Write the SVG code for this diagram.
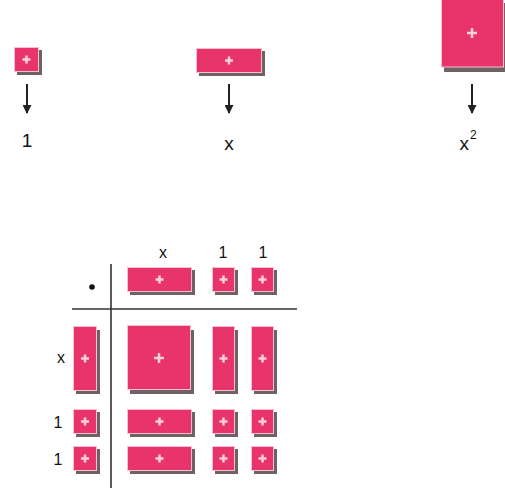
<svg xmlns="http://www.w3.org/2000/svg" width="505" height="493" viewBox="0 0 505 493">
<defs>
<style>
.sh{fill:#6e6264}
.t{fill:#e8346b;stroke:#f5bfd0;stroke-width:1}
.p{stroke:#f8d0dc;stroke-width:2.5;stroke-linecap:butt}
.lbl{font-family:"Liberation Sans",Arial,sans-serif;font-size:19px;fill:#111;text-anchor:middle}
.tl{font-size:16px}
.ln{stroke:#333;stroke-width:1.6;fill:none}
.ar{stroke:#222;stroke-width:2;fill:none}
</style>
<marker id="ah" viewBox="0 0 10 10" refX="9" refY="5" markerWidth="5" markerHeight="4.5" orient="auto">
<path d="M0,0 L10,5 L0,10 z" fill="#222"/>
</marker>
</defs>
<rect width="505" height="493" fill="#fff"/>

<g id="unit-top">
<rect class="sh" x="17" y="50" width="25" height="25"/>
<rect class="t" x="14.5" y="47.5" width="24" height="24"/>
<path class="p" d="M22.5,59.5h8M26.5,55.5v8"/>
</g>
<g id="x-top">
<rect class="sh" x="199" y="51" width="66" height="25"/>
<rect class="t" x="196.5" y="48.5" width="65" height="24"/>
<path class="p" d="M225,60.5h8M229,56.5v8"/>
</g>
<g id="x2-top">
<rect class="sh" x="444" y="3" width="62" height="69"/>
<rect class="t" x="441.5" y="-1" width="62" height="68"/>
<path class="p" d="M467,33h10M472,28v10"/>
</g>

<g id="connectors">
<line class="ar" x1="27" y1="84" x2="27" y2="113" marker-end="url(#ah)"/>
<line class="ar" x1="229" y1="84" x2="229" y2="113" marker-end="url(#ah)"/>
<line class="ar" x1="472" y1="84" x2="472" y2="113" marker-end="url(#ah)"/>
</g>

<g id="labels-top">
<text class="lbl" x="27" y="147">1</text>
<text class="lbl" x="229" y="150">x</text>
<text class="lbl" x="468" y="150">x<tspan font-size="12" dy="-11" dx="1">2</tspan></text>
</g>

<g id="table-lines">
<line class="ln" x1="111" y1="264" x2="111" y2="488"/>
<line class="ln" x1="72" y1="309" x2="297" y2="309"/>
</g>

<g id="table-labels">
<circle cx="92" cy="287" r="2.8" fill="#111"/>
<text class="lbl tl" x="163" y="258">x</text>
<text class="lbl tl" x="223" y="258">1</text>
<text class="lbl tl" x="263" y="258">1</text>
<text class="lbl tl" x="61" y="363">x</text>
<text class="lbl tl" x="58" y="428">1</text>
<text class="lbl tl" x="58" y="465">1</text>
</g>

<g id="col-x">
<rect class="sh" x="130" y="270" width="65" height="25"/>
<rect class="t" x="127.5" y="267.5" width="64" height="24"/>
<path class="p" d="M155.5,279.5h8M159.5,275.5v8"/>
</g>
<g id="col-1a">
<rect class="sh" x="215" y="270" width="23" height="25"/>
<rect class="t" x="212.5" y="267.5" width="22" height="24"/>
<path class="p" d="M219.5,279.5h8M223.5,275.5v8"/>
</g>
<g id="col-1b">
<rect class="sh" x="254" y="270" width="23" height="25"/>
<rect class="t" x="251.5" y="267.5" width="22" height="24"/>
<path class="p" d="M258.5,279.5h8M262.5,275.5v8"/>
</g>

<g id="row-x">
<rect class="sh" x="76" y="330" width="24" height="64"/>
<rect class="t" x="73.5" y="326.5" width="23" height="64"/>
<path class="p" d="M81,358.5h8M85,354.5v8"/>
</g>
<g id="cell-xx">
<rect class="sh" x="130" y="330" width="64" height="64"/>
<rect class="t" x="127.5" y="325.5" width="63" height="64"/>
<path class="p" d="M154,358h10M159,353v10"/>
</g>
<g id="cell-x1a">
<rect class="sh" x="215" y="330" width="23" height="64"/>
<rect class="t" x="212.5" y="326.5" width="22" height="64"/>
<path class="p" d="M219.5,358.5h8M223.5,354.5v8"/>
</g>
<g id="cell-x1b">
<rect class="sh" x="254" y="330" width="23" height="64"/>
<rect class="t" x="251.5" y="326.5" width="22" height="64"/>
<path class="p" d="M258.5,358.5h8M262.5,354.5v8"/>
</g>

<g id="row-1a">
<rect class="sh" x="76" y="412" width="24" height="25"/>
<rect class="t" x="73.5" y="409.5" width="23" height="24"/>
<path class="p" d="M81,421.5h8M85,417.5v8"/>
</g>
<g id="cell-1a-x">
<rect class="sh" x="130" y="412" width="65" height="25"/>
<rect class="t" x="127.5" y="409.5" width="64" height="24"/>
<path class="p" d="M155.5,421.5h8M159.5,417.5v8"/>
</g>
<g id="cell-1a-1a">
<rect class="sh" x="215" y="412" width="23" height="25"/>
<rect class="t" x="212.5" y="409.5" width="22" height="24"/>
<path class="p" d="M219.5,421.5h8M223.5,417.5v8"/>
</g>
<g id="cell-1a-1b">
<rect class="sh" x="254" y="412" width="23" height="25"/>
<rect class="t" x="251.5" y="409.5" width="22" height="24"/>
<path class="p" d="M258.5,421.5h8M262.5,417.5v8"/>
</g>

<g id="row-1b">
<rect class="sh" x="76" y="449" width="24" height="25"/>
<rect class="t" x="73.5" y="446.5" width="23" height="24"/>
<path class="p" d="M81,458.5h8M85,454.5v8"/>
</g>
<g id="cell-1b-x">
<rect class="sh" x="130" y="449" width="65" height="25"/>
<rect class="t" x="127.5" y="446.5" width="64" height="24"/>
<path class="p" d="M155.5,458.5h8M159.5,454.5v8"/>
</g>
<g id="cell-1b-1a">
<rect class="sh" x="215" y="449" width="23" height="25"/>
<rect class="t" x="212.5" y="446.5" width="22" height="24"/>
<path class="p" d="M219.5,458.5h8M223.5,454.5v8"/>
</g>
<g id="cell-1b-1b">
<rect class="sh" x="254" y="449" width="23" height="25"/>
<rect class="t" x="251.5" y="446.5" width="22" height="24"/>
<path class="p" d="M258.5,458.5h8M262.5,454.5v8"/>
</g>
</svg>
